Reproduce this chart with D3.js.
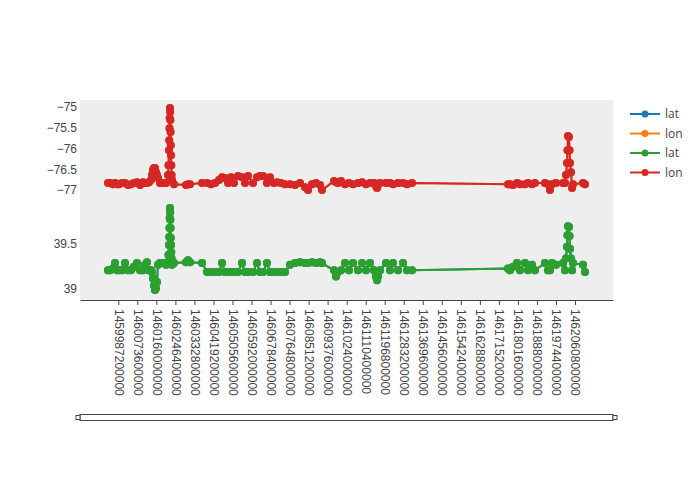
<!DOCTYPE html>
<html>
<head>
<meta charset="utf-8">
<script src="https://cdn.jsdelivr.net/npm/d3@7"></script>
<style>
  body { margin: 0; background: #fff; }
  svg { display: block; font-family: "Open Sans", Verdana, Arial, sans-serif; }
</style>
</head>
<body>
<svg id="chart" width="700" height="500"></svg>
<script>
// ---- data ----
const times = [
  "2016-04-06T11:00Z","2016-04-06T13:30Z","2016-04-06T17:20Z","2016-04-06T19:50Z","2016-04-06T22:20Z",
  "2016-04-07T00:55Z","2016-04-07T04:40Z","2016-04-07T08:25Z","2016-04-07T12:15Z","2016-04-07T16:00Z",
  "2016-04-07T19:50Z","2016-04-07T23:35Z","2016-04-08T03:25Z","2016-04-08T07:10Z","2016-04-08T09:40Z",
  "2016-04-08T12:10Z","2016-04-08T14:45Z","2016-04-08T17:15Z","2016-04-08T18:30Z","2016-04-08T19:45Z",
  "2016-04-08T21:00Z","2016-04-08T22:15Z","2016-04-08T23:30Z","2016-04-09T00:50Z","2016-04-09T02:05Z",
  "2016-04-09T04:35Z","2016-04-09T08:25Z","2016-04-09T12:10Z",
  "2016-04-09T14:40Z","2016-04-09T15:20Z","2016-04-09T15:55Z","2016-04-09T16:15Z","2016-04-09T16:35Z",
  "2016-04-09T16:50Z","2016-04-09T17:10Z","2016-04-09T17:25Z","2016-04-09T17:40Z","2016-04-09T17:55Z",
  "2016-04-09T18:10Z","2016-04-09T18:30Z","2016-04-09T18:50Z","2016-04-09T19:10Z","2016-04-09T19:45Z",
  "2016-04-09T22:15Z","2016-04-10T13:25Z","2016-04-10T15:55Z","2016-04-10T18:25Z",
  "2016-04-11T09:35Z","2016-04-11T15:55Z","2016-04-11T20:55Z","2016-04-12T02:00Z","2016-04-12T07:00Z",
  "2016-04-12T10:50Z","2016-04-12T14:35Z","2016-04-12T18:25Z","2016-04-12T22:10Z","2016-04-13T01:55Z",
  "2016-04-13T07:00Z","2016-04-13T12:00Z","2016-04-13T15:50Z","2016-04-13T19:35Z","2016-04-14T01:55Z",
  "2016-04-14T06:55Z","2016-04-14T10:40Z","2016-04-14T14:30Z","2016-04-14T19:30Z","2016-04-14T23:20Z",
  "2016-04-15T04:20Z","2016-04-15T08:10Z","2016-04-15T13:10Z","2016-04-15T18:15Z","2016-04-16T00:35Z",
  "2016-04-16T06:55Z","2016-04-16T13:10Z","2016-04-16T19:30Z","2016-04-16T23:20Z","2016-04-17T04:20Z",
  "2016-04-17T09:25Z","2016-04-17T14:25Z","2016-04-17T16:55Z","2016-04-18T08:05Z","2016-04-18T10:35Z",
  "2016-04-18T13:05Z","2016-04-18T16:55Z","2016-04-18T21:55Z","2016-04-19T03:00Z","2016-04-19T08:00Z",
  "2016-04-19T14:20Z","2016-04-19T19:25Z","2016-04-20T00:25Z","2016-04-20T05:30Z","2016-04-20T10:30Z",
  "2016-04-20T13:00Z","2016-04-20T14:20Z","2016-04-20T15:35Z","2016-04-20T18:05Z","2016-04-21T01:35Z",
  "2016-04-21T06:40Z","2016-04-21T10:30Z","2016-04-21T16:50Z","2016-04-21T23:05Z","2016-04-22T04:05Z",
  "2016-04-22T10:25Z",
  "2016-04-27T11:30Z","2016-04-27T14:00Z","2016-04-27T17:50Z","2016-04-27T22:55Z","2016-04-28T02:35Z",
  "2016-04-28T08:55Z","2016-04-28T12:40Z","2016-04-28T17:50Z","2016-04-28T21:30Z","2016-04-29T10:05Z",
  "2016-04-29T13:55Z","2016-04-29T16:25Z","2016-04-29T19:00Z","2016-04-30T00:00Z","2016-04-30T08:50Z",
  "2016-04-30T11:25Z","2016-04-30T12:35Z","2016-04-30T13:55Z","2016-04-30T14:30Z","2016-04-30T15:10Z",
  "2016-04-30T16:25Z","2016-04-30T17:05Z","2016-04-30T17:40Z","2016-04-30T19:00Z","2016-04-30T20:15Z",
  "2016-04-30T21:30Z","2016-05-01T10:05Z","2016-05-01T12:35Z"
];
const lonVals = [
  -76.83,-76.83,-76.86,-76.83,-76.86,-76.86,-76.83,-76.83,-76.88,-76.86,
  -76.83,-76.81,-76.88,-76.81,-76.83,-76.83,-76.81,-76.76,-76.64,-76.52,
  -76.47,-76.47,-76.57,-76.64,-76.71,-76.83,-76.83,-76.83,
  -76.64,-76.40,-76.04,-75.80,-75.51,-75.27,-75.02,-75.12,-75.31,-75.60,
  -75.92,-76.16,-76.40,-76.64,-76.76,
  -76.86,-76.88,-76.86,-76.86,
  -76.83,-76.83,-76.86,-76.83,-76.76,-76.69,-76.71,-76.83,-76.69,-76.83,
  -76.66,-76.69,-76.83,-76.66,-76.83,-76.69,-76.66,-76.66,-76.83,-76.69,
  -76.83,-76.81,-76.83,-76.86,-76.86,-76.88,-76.83,-76.93,-77.00,-76.86,
  -76.83,-76.88,-77.00,-76.78,-76.81,-76.83,-76.78,-76.86,-76.83,-76.86,
  -76.83,-76.81,-76.86,-76.83,-76.83,-76.90,-76.95,-76.88,-76.83,-76.83,
  -76.83,-76.86,-76.83,-76.83,-76.86,-76.83,
  -76.86,-76.86,-76.88,-76.83,-76.86,-76.86,-76.83,-76.86,-76.83,-76.83,
  -76.86,-77.00,-76.86,-76.83,-76.83,-76.83,-76.64,-76.35,-76.04,-75.70,
  -75.72,-76.04,-76.35,-76.57,-76.95,-76.86,-76.83,-76.86
];
const latVals = [
  39.20,39.20,39.22,39.28,39.20,39.20,39.20,39.28,39.20,39.20,
  39.24,39.28,39.20,39.20,39.26,39.29,39.20,39.20,39.18,39.11,
  39.03,38.98,39.00,39.07,39.26,39.28,39.28,39.26,
  39.29,39.37,39.48,39.57,39.67,39.78,39.89,39.84,39.76,39.67,
  39.56,39.48,39.40,39.33,39.26,
  39.28,39.29,39.31,39.29,
  39.28,39.18,39.18,39.18,39.18,39.28,39.18,39.18,39.18,39.18,
  39.18,39.28,39.18,39.18,39.18,39.28,39.18,39.18,39.28,39.18,
  39.18,39.18,39.18,39.18,39.26,39.28,39.29,39.28,39.28,39.29,
  39.28,39.29,39.28,39.20,39.13,39.18,39.20,39.28,39.20,39.28,
  39.20,39.28,39.20,39.28,39.20,39.13,39.09,39.13,39.20,39.28,
  39.20,39.28,39.20,39.28,39.20,39.20,
  39.22,39.20,39.24,39.28,39.20,39.28,39.20,39.26,39.20,39.28,
  39.20,39.20,39.28,39.26,39.28,39.20,39.33,39.46,39.59,39.69,
  39.68,39.58,39.44,39.33,39.20,39.28,39.26,39.18
];
const xTickVals = [
  1459987200000,1460073600000,1460160000000,1460246400000,1460332800000,
  1460419200000,1460505600000,1460592000000,1460678400000,1460764800000,
  1460851200000,1460937600000,1461024000000,1461110400000,1461196800000,
  1461283200000,1461369600000,1461456000000,1461542400000,1461628800000,
  1461715200000,1461801600000,1461888000000,1461974400000,1462060800000
];
const lonTicks = [-77, -76.5, -76, -75.5, -75];
const latTicks = [39, 39.5];
const xRange = [1459813300000, 1462233300000];
const lonRange = [-77.24, -74.83];
const latRange = [38.87, 39.98];
const legendNames = ["lat", "lon", "lat", "lon"];
const colors = ["#1f77b4", "#ff7f0e", "#2ca02c", "#d62728"];

// ---- layout ----
const L = 80, R = 613, T = 100, B = 300, MID = 200;
const svg = d3.select("#chart");
svg.append("rect").attr("width", 700).attr("height", 500).attr("fill", "#fff");
svg.append("rect").attr("x", L).attr("y", T).attr("width", R - L).attr("height", B - T).attr("fill", "#eeeeee");

const x = d3.scaleLinear().domain(xRange).range([L, R]);
const yLon = d3.scaleLinear().domain(lonRange).range([MID, T]);
const yLat = d3.scaleLinear().domain(latRange).range([B, MID]);

const tms = times.map(s => Date.parse(s));
const latData = tms.map((t, i) => ({ t, v: latVals[i] }));
const lonData = tms.map((t, i) => ({ t, v: lonVals[i] }));

svg.append("defs").append("clipPath").attr("id", "clip")
  .append("rect").attr("x", L).attr("y", T).attr("width", R - L).attr("height", B - T);

const plot = svg.append("g").attr("clip-path", "url(#clip)");
const traces = [
  { data: latData, y: yLat, color: colors[0] },
  { data: lonData, y: yLon, color: colors[1] },
  { data: latData, y: yLat, color: colors[2] },
  { data: lonData, y: yLon, color: colors[3] }
];
traces.forEach(tr => {
  const g = plot.append("g");
  const line = d3.line().x(d => x(d.t)).y(d => tr.y(d.v));
  g.append("path").datum(tr.data).attr("d", line)
    .attr("fill", "none").attr("stroke", tr.color).attr("stroke-width", 2);
  g.selectAll("circle").data(tr.data).join("circle")
    .attr("cx", d => x(d.t)).attr("cy", d => tr.y(d.v)).attr("r", 4)
    .attr("fill", tr.color);
});

// ---- axes ----
const xAxis = svg.append("g").attr("transform", `translate(0,${B})`)
  .call(d3.axisBottom(x).tickValues(xTickVals).tickFormat(d3.format("d")).tickSize(5).tickSizeOuter(0));
xAxis.select(".domain").attr("stroke", "#444");
xAxis.selectAll(".tick line").attr("stroke", "#444");
xAxis.selectAll(".tick text")
  .attr("fill", "#444").style("font-size", "12px")
  .attr("transform", "rotate(90)")
  .attr("text-anchor", "start")
  .attr("x", 9).attr("y", 0).attr("dy", "0.35em");

function yAxis(scale, ticks) {
  const g = svg.append("g").attr("transform", `translate(${L},0)`)
    .call(d3.axisLeft(scale).tickValues(ticks).tickFormat(d3.format("")).tickSize(0).tickPadding(3));
  g.select(".domain").remove();
  g.selectAll(".tick text").attr("fill", "#444").style("font-size", "12px");
}
yAxis(yLon, lonTicks);
yAxis(yLat, latTicks);

// ---- range slider ----
const rs = svg.append("g");
rs.append("rect").attr("x", L).attr("y", 414.5).attr("width", R - L).attr("height", 6)
  .attr("fill", "#fff").attr("stroke", "#444").attr("stroke-width", 1);
[L - 2, R + 2].forEach(cx => {
  rs.append("rect").attr("x", cx - 2).attr("y", 415.5).attr("width", 4).attr("height", 4)
    .attr("fill", "#fff").attr("stroke", "#444").attr("stroke-width", 1);
});

// ---- legend ----
const leg = svg.append("g").attr("transform", "translate(630,114)");
legendNames.forEach((name, i) => {
  const g = leg.append("g").attr("transform", `translate(0,${i * 19.5})`);
  g.append("line").attr("x1", 0).attr("x2", 30).attr("y1", 0).attr("y2", 0)
    .attr("stroke", colors[i]).attr("stroke-width", 2);
  g.append("circle").attr("cx", 15).attr("cy", 0).attr("r", 3.5).attr("fill", colors[i]);
  g.append("text").attr("x", 35).attr("y", 0).attr("dy", "0.35em")
    .attr("fill", "#444").style("font-size", "12px").text(name);
});
</script>
</body>
</html>
